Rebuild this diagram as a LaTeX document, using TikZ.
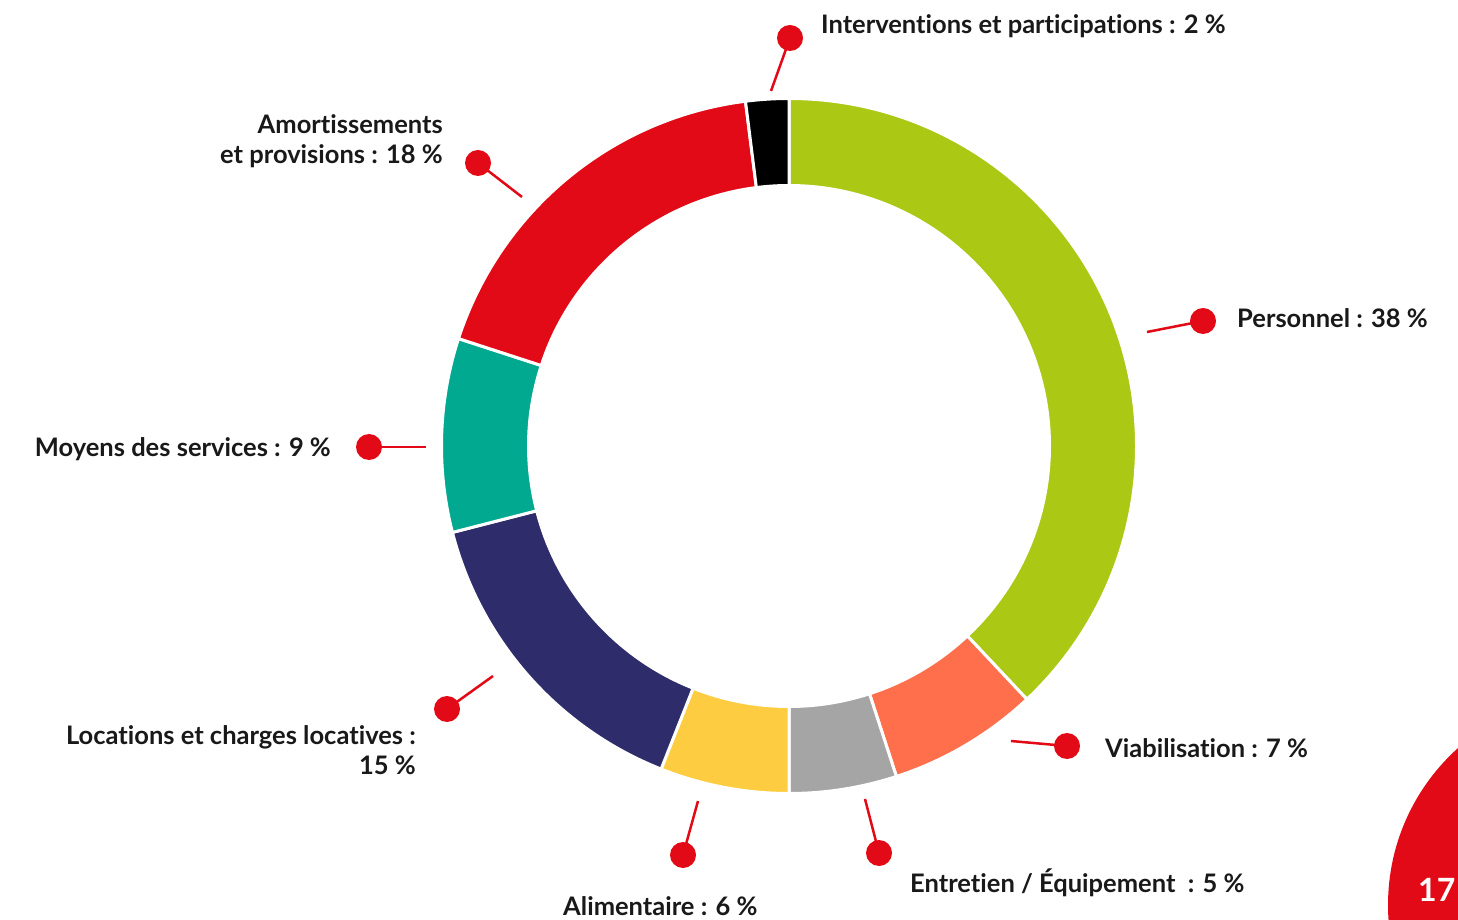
\documentclass[tikz,border=0pt]{standalone}
\usepackage{fontspec}
\setmainfont{Lato}[Ligatures={NoCommon}]
\usetikzlibrary{calc}
\definecolor{cGreen}{HTML}{AAC814}
\definecolor{cOrange}{HTML}{FF6F4C}
\definecolor{cGray}{HTML}{A5A5A5}
\definecolor{cYellow}{HTML}{FECC40}
\definecolor{cNavy}{HTML}{2E2C6A}
\definecolor{cTeal}{HTML}{00A98F}
\definecolor{cRed}{HTML}{E20A16}
\begin{document}
\begin{tikzpicture}[x=1pt,y=1pt,
  dot/.style={circle,fill=cRed,inner sep=0pt,minimum size=26pt},
  leader/.style={cRed,line width=2.5pt},
  lbl/.style={font=\bfseries\fontsize{25.5}{30}\selectfont,inner sep=0pt,text=black!90},
  seg/.style={draw=white,line width=3pt}]
\clip (0,0) rectangle (1458,919);
\fill[white] (0,0) rectangle (1458,919);
\coordinate (c) at (789,473);
\def\Ro{347.5}
\def\Ri{260.5}
\foreach \a/\b/\col in {90/-46.8/cGreen,-46.8/-72/cOrange,-72/-90/cGray,-90/-111.6/cYellow,-111.6/-165.6/cNavy,-165.6/-198/cTeal,-198/-262.8/cRed,-262.8/-270/black}{
  \filldraw[seg,fill=\col] ($(c)+(\a:\Ro)$) arc[start angle=\a,end angle=\b,radius=\Ro] -- ($(c)+(\b:\Ri)$) arc[start angle=\b,end angle=\a,radius=\Ri] -- cycle;
}
% dots
\node[dot] (dInt) at (790,881) {};
\node[dot] (dAmo) at (478,756) {};
\node[dot] (dPer) at (1203,598) {};
\node[dot] (dMoy) at (369,472) {};
\node[dot] (dLoc) at (447,210) {};
\node[dot] (dVia) at (1067,173) {};
\node[dot] (dEnt) at (879,66) {};
\node[dot] (dAli) at (683,64) {};
% leader ends
\coordinate (eInt) at (771,828);
\coordinate (eAmo) at (522,722);
\coordinate (ePer) at (1147,587);
\coordinate (eMoy) at (426,472);
\coordinate (eLoc) at (493,243);
\coordinate (eVia) at (1011,178);
\coordinate (eEnt) at (865,120);
\coordinate (eAli) at (698,118);
\foreach \n in {Int,Amo,Per,Moy,Loc,Via,Ent,Ali}{\draw[leader] (e\n) -- (d\n.center);}
% labels
\node[lbl,anchor=west] (tInt) at (821,893) {Interventions et participations : 2 \%};
\node[lbl,anchor=east,align=right] (tAmo) at (443,778) {Amortissements\\et provisions : 18 \%};
\node[lbl,anchor=west] (tPer) at (1237,601) {Personnel : 38 \%};
\node[lbl,anchor=east] (tMoy) at (331,470) {Moyens des services : 9 \%};
\node[lbl,anchor=east,align=right] (tLoc) at (416,169) {Locations et charges locatives :\\15 \%};
\node[lbl,anchor=west] (tVia) at (1105,171) {Viabilisation : 7 \%};
\node[lbl,anchor=west] (tEnt) at (910,36) {Entretien / Équipement~ : 5 \%};
\node[lbl,anchor=west] (tAli) at (563,13) {Alimentaire : 6 \%};
% page badge
\fill[cRed] (1599,14) circle[radius=211];
\node[font=\bfseries\fontsize{32}{36}\selectfont,text=white,anchor=west,inner sep=0pt] (page) at (1418,29) {17};
\end{tikzpicture}
\end{document}
